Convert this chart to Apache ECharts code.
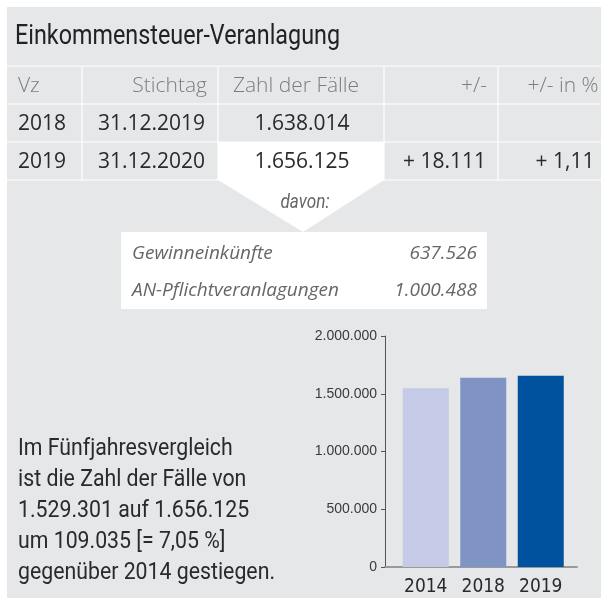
<!DOCTYPE html>
<html>
<head>
<meta charset="utf-8">
<script src="https://cdn.jsdelivr.net/npm/echarts@6/dist/echarts.min.js"></script>
<style>
  html, body { margin: 0; padding: 0; background: #fff; }
  #chart { width: 601px; height: 604px; }
</style>
</head>
<body>
<div id="chart"></div>
<script>
const title = 'Einkommensteuer-Veranlagung';
const tableHead = ['Vz', 'Stichtag', 'Zahl der Fälle', '+/-', '+/- in %'];
const rowYears = ['2018', '2019'];
const rowDates = ['31.12.2019', '31.12.2020'];
const rowCases = ['1.638.014', '1.656.125'];
const rowDiff = ['', '+ 18.111'];
const rowDiffPct = ['', '+ 1,11'];
const detailNote = 'davon:';
const detailNames = ['Gewinneinkünfte', 'AN-Pflichtveranlagungen'];
const detailValues = ['637.526', '1.000.488'];
const chartYears = ['2014', '2018', '2019'];
const chartCases = [1547090, 1638014, 1656125];
const summaryLines = [
    'Im Fünfjahresvergleich',
    'ist die Zahl der Fälle von',
    '1.529.301 auf 1.656.125',
    'um 109.035 [= 7,05 %]',
    'gegenüber 2014 gestiegen.'
];

const chartDom = document.getElementById('chart');
const myChart = echarts.init(chartDom);

const GRAY = '#e6e7e9';
const COND = 'Roboto, sans-serif';
const SANS = '"Open Sans", sans-serif';

// schmale Schrift nachbilden: Breite messen und horizontal stauchen
const ctx = document.createElement('canvas').getContext('2d');
function squeeze(text, font, target) {
    ctx.font = font;
    return target / ctx.measureText(text).width;
}

function txt(text, x, y, font, fill, align, sx) {
    return {
        type: 'text',
        x: x,
        y: y,
        scaleX: sx || 1,
        style: {
            text: text, x: 0, y: 0, font: font, fill: fill,
            align: align || 'left', verticalAlign: 'middle',
            textAlign: align || 'left', textVerticalAlign: 'middle'
        }
    };
}

function fmt(v) {
    return String(v).replace(/\B(?=(\d{3})+(?!\d))/g, '.');
}

const els = [];
// Hintergrund
els.push({ type: 'rect', shape: { x: 7, y: 7, width: 594, height: 591 }, style: { fill: GRAY } });
// weiße Zelle + Pfeil + Kasten
els.push({ type: 'rect', shape: { x: 218, y: 142, width: 166, height: 38 }, style: { fill: '#fff' } });
els.push({ type: 'polygon', shape: { points: [[218, 180], [384, 180], [303, 232]] }, style: { fill: '#fff' } });
els.push({ type: 'rect', shape: { x: 121, y: 232, width: 366, height: 77 }, style: { fill: '#fff' } });

// Tabellenlinien
[66, 104, 142, 180].forEach(function (y) {
    els.push({ type: 'line', shape: { x1: 7, y1: y, x2: 601, y2: y }, style: { stroke: '#fff', lineWidth: 1.2 } });
});
[82, 218, 384, 498].forEach(function (x) {
    els.push({ type: 'line', shape: { x1: x, y1: 66, x2: x, y2: 180 }, style: { stroke: '#fff', lineWidth: 1.2 } });
});

const titleFont = '27px ' + COND;
els.push(txt(title, 15, 37, titleFont, '#222', 'left', squeeze(title, titleFont, 325)));

// Kopfzeile
const headPos = [[18, 'left'], [207, 'right'], [296, 'center'], [487, 'right'], [563, 'center']];
tableHead.forEach(function (h, i) {
    els.push(txt(h, headPos[i][0], 86, '300 21px ' + SANS, '#7d7d7d', headPos[i][1]));
});
// Datenzeilen
const cellPos = [[18, 'left'], [205, 'right'], [302, 'center'], [486, 'right'], [565, 'center']];
rowYears.forEach(function (yr, r) {
    const y = 124 + r * 38;
    const cells = [yr, rowDates[r], rowCases[r], rowDiff[r], rowDiffPct[r]];
    cells.forEach(function (c, i) {
        if (c) els.push(txt(c, cellPos[i][0], y, '21px ' + SANS, '#2a2a2a', cellPos[i][1]));
    });
});

const noteFont = 'italic 21px ' + COND;
els.push(txt(detailNote, 305, 203, noteFont, '#666', 'center', squeeze(detailNote, noteFont, 49)));
detailNames.forEach(function (n, i) {
    const y = 254 + i * 37;
    els.push(txt(n, 132, y, 'italic 19px ' + SANS, '#666'));
    els.push(txt(detailValues[i], 477, y, 'italic 19px ' + SANS, '#666', 'right'));
});

const sumFont = '24px ' + COND;
const sumScale = squeeze(summaryLines[4], sumFont, 257);
summaryLines.forEach(function (l, i) {
    els.push(txt(l, 18, 449 + i * 31, sumFont, '#2a2a2a', 'left', sumScale));
});

const option = {
    animation: false,
    graphic: { elements: els },
    grid: [
        { left: 385, top: 336, width: 192, height: 231 },
        { left: 397, top: 336, width: 172.5, height: 231 }
    ],
    xAxis: [{
        type: 'category',
        gridIndex: 0,
        data: chartYears,
        axisLine: { lineStyle: { color: '#9a9a9a', width: 2 } },
        axisTick: { show: false },
        axisLabel: { show: false }
    }, {
        type: 'category',
        gridIndex: 1,
        data: chartYears,
        axisLine: { show: false },
        axisTick: { show: false },
        axisLabel: { interval: 0, margin: 11, fontSize: 19, fontFamily: '"DejaVu Sans Condensed", sans-serif', color: '#2a2a2a' }
    }],
    yAxis: [{
        type: 'value',
        gridIndex: 0,
        min: 0,
        max: 2000000,
        interval: 500000,
        axisLine: { show: true, lineStyle: { color: '#555', width: 1 } },
        axisTick: { show: true, length: 4, lineStyle: { color: '#555' } },
        axisLabel: { margin: 8, fontSize: 14, fontFamily: '"Liberation Sans", Arial, sans-serif', color: '#3a3a3a', formatter: fmt },
        splitLine: { show: false }
    }, {
        type: 'value',
        gridIndex: 1,
        min: 0,
        max: 2000000,
        interval: 500000,
        show: false,
        splitLine: { show: false }
    }],
    series: [{
        type: 'bar',
        xAxisIndex: 1,
        yAxisIndex: 1,
        barWidth: 46,
        data: chartCases.map(function (v, i) {
            return { value: v, itemStyle: { color: ['#c5cae6', '#7f93c5', '#00529f'][i] } };
        })
    }]
};

myChart.setOption(option);

window.addEventListener('resize', () => {
    myChart.resize();
});
</script>
</body>
</html>
